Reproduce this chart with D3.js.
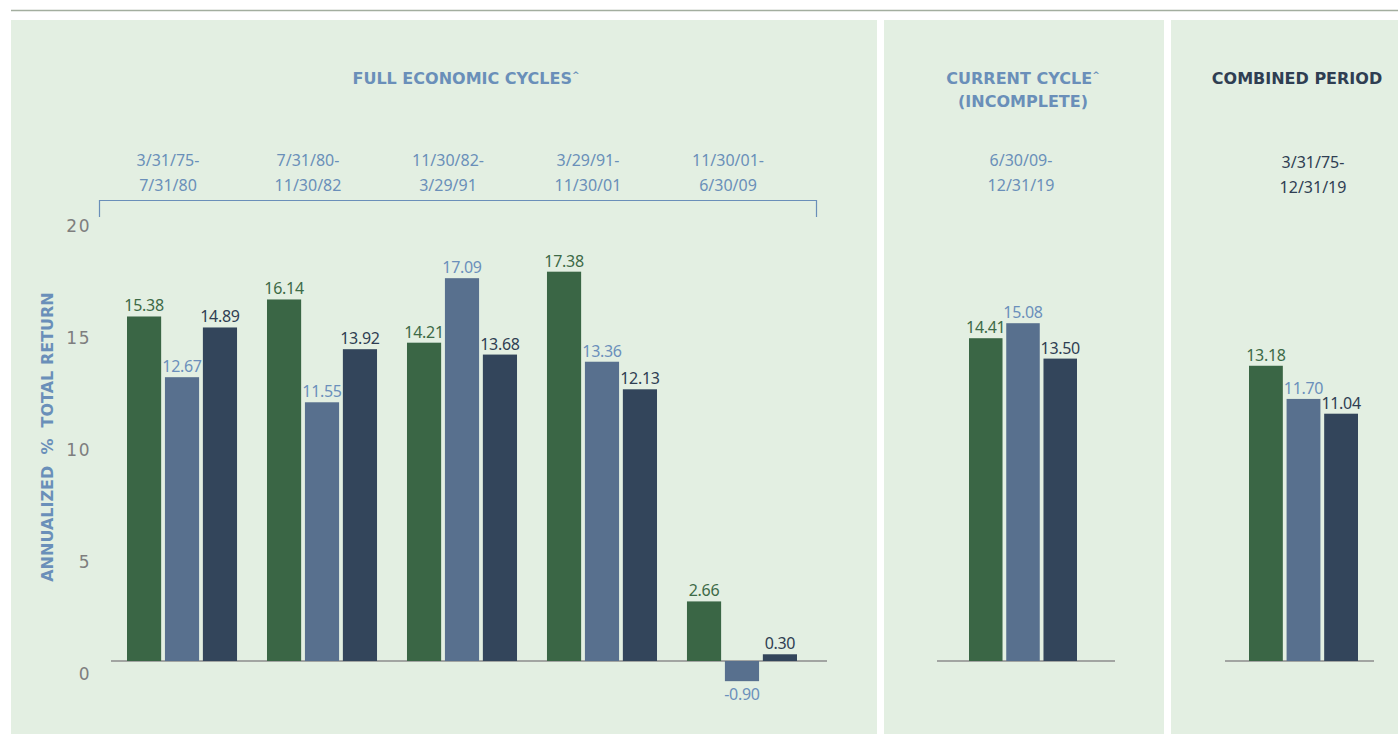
<!DOCTYPE html>
<html>
<head>
<meta charset="utf-8">
<script src="https://cdn.jsdelivr.net/npm/d3@7"></script>
<style>
  body { margin: 0; background: #fff; }
  svg { display: block; font-family: "Noto Sans", sans-serif; }
</style>
</head>
<body>
<svg id="chart" width="1398" height="740"></svg>
<script>
// data
var seriesKeys = ["s1", "s2", "s3"];
var fullPeriods = [
  ["3/31/75-", "7/31/80"],
  ["7/31/80-", "11/30/82"],
  ["11/30/82-", "3/29/91"],
  ["3/29/91-", "11/30/01"],
  ["11/30/01-", "6/30/09"]
];
var fullS1 = [15.38, 16.14, 14.21, 17.38, 2.66];
var fullS2 = [12.67, 11.55, 17.09, 13.36, -0.90];
var fullS3 = [14.89, 13.92, 13.68, 12.13, 0.30];
var currentPeriod = ["6/30/09-", "12/31/19"];
var currentValues = [14.41, 15.08, 13.50];
var combinedPeriod = ["3/31/75-", "12/31/19"];
var combinedValues = [13.18, 11.70, 11.04];
var yTicks = [0, 5, 10, 15, 20];

var barColors = ["#3a6645", "#58708e", "#33455b"];
var labelColors = ["#3d6a47", "#6b8fbb", "#2f3e52"];
var lightBlue = "#6a8fb9";
var panelFill = "#e3efe2";
var boldFont = "DejaVu Sans";

var svg = d3.select("#chart");

// top rule
svg.append("line")
  .attr("x1", 11).attr("x2", 1398).attr("y1", 10.5).attr("y2", 10.5)
  .style("stroke", "#a3ae9f").style("stroke-width", 1.5);

// panels
var panels = [[11, 877], [884, 1164], [1171, 1398]];
svg.append("g").selectAll("rect")
  .data(panels)
  .enter()
  .append("rect")
  .attr("x", function (d) { return d[0]; })
  .attr("y", 20)
  .attr("width", function (d) { return d[1] - d[0]; })
  .attr("height", 714)
  .style("fill", panelFill);

var y = d3.scaleLinear().domain([0, 20]).range([661, 213]);

// y axis tick labels (drawn a little below the value, as in the original)
svg.append("g").selectAll("text")
  .data(yTicks)
  .enter()
  .append("text")
  .attr("x", 91)
  .attr("y", function (d) { return y(d) + 13; })
  .attr("dy", "0.35em")
  .attr("text-anchor", "end")
  .style("font-family", "DejaVu Sans")
  .style("font-size", "17px")
  .style("letter-spacing", "1.5px")
  .style("fill", "#7e7e7e")
  .text(function (d) { return d; });

svg.append("text")
  .attr("transform", "translate(47," + 437 + ") rotate(-90)")
  .attr("text-anchor", "middle")
  .attr("dy", "0.35em")
  .style("font-family", boldFont)
  .style("font-size", "16px")
  .style("font-weight", "bold")
  .style("fill", lightBlue)
  .attr("xml:space", "preserve")
  .text("ANNUALIZED  %  TOTAL RETURN");

// headers
function header(x, lines, color) {
  var t = svg.append("text")
    .attr("text-anchor", "middle")
    .style("font-family", boldFont)
    .style("font-size", "16px")
    .style("font-weight", "bold")
    .style("fill", color);
  lines.forEach(function (l, i) {
    t.append("tspan").attr("x", x).attr("y", 84 + i * 23).text(l.text);
    if (l.sup) {
      t.append("tspan").attr("dy", -6).style("font-size", "9px").text("^");
    }
  });
}
header(466, [{ text: "FULL ECONOMIC CYCLES", sup: true }], lightBlue);
header(1023, [{ text: "CURRENT CYCLE", sup: true }, { text: "(INCOMPLETE)" }], lightBlue);
header(1297, [{ text: "COMBINED PERIOD" }], "#2f3e52");

function period(x, lines, color, y0) {
  var t = svg.append("text")
    .attr("text-anchor", "middle")
    .style("font-size", "16px")
    .style("fill", color);
  lines.forEach(function (l, i) {
    t.append("tspan").attr("x", x).attr("y", y0 + i * 25).text(l);
  });
}

// bracket over the full cycles
svg.append("path")
  .attr("d", "M99.5,217V200.5H816.5V217")
  .style("fill", "none")
  .style("stroke", lightBlue)
  .style("stroke-width", 1.2);

// panel 1: grouped bars
var fullIdx = d3.range(fullPeriods.length);
var x0 = d3.scaleBand().domain(fullIdx).range([127, 797]).paddingInner(0.214);
var x1 = d3.scaleBand().domain(seriesKeys).range([0, x0.bandwidth()]).paddingInner(0.1);

var fullData = fullIdx.map(function (i) {
  return [fullS1[i], fullS2[i], fullS3[i]];
});

fullIdx.forEach(function (i) {
  period(x0(i) + x0.bandwidth() / 2 - 14, fullPeriods[i], lightBlue, 166);
});

var fmt = function (v) { return d3.format(".2f")(v).replace("\u2212", "-"); };

function drawBars(g, values, xs, offset) {
  var bars = g.selectAll(null)
    .data(values.map(function (v, j) { return { v: v, k: seriesKeys[j], j: j }; }))
    .enter();
  bars.append("rect")
    .attr("x", function (d) { return offset + xs(d.k); })
    .attr("y", function (d) { return y(Math.max(0, d.v)); })
    .attr("width", xs.bandwidth())
    .attr("height", function (d) { return Math.abs(y(d.v) - y(0)); })
    .style("fill", function (d) { return barColors[d.j]; });
  bars.append("text")
    .attr("x", function (d) { return offset + xs(d.k) + xs.bandwidth() / 2; })
    .attr("y", function (d) { return d.v >= 0 ? y(d.v) - 5 : y(d.v) + 19; })
    .attr("text-anchor", "middle")
    .style("font-size", "16px")
    .style("letter-spacing", "-0.3px")
    .style("fill", function (d) { return labelColors[d.j]; })
    .text(function (d) { return fmt(d.v); });
}

function baseline(xa, xb) {
  svg.append("line")
    .attr("x1", xa).attr("x2", xb)
    .attr("y1", y(0)).attr("y2", y(0))
    .style("stroke", "#8c8c8c")
    .style("stroke-width", 1.5);
}

baseline(111, 827);
var g1 = svg.append("g");
fullData.forEach(function (vals, i) {
  drawBars(g1, vals, x1, x0(i));
});

// panel 2: current cycle
period(1021, currentPeriod, lightBlue, 166);
var xc = d3.scaleBand().domain(seriesKeys).range([969, 1077]).paddingInner(0.1);
baseline(937, 1115);
drawBars(svg.append("g"), currentValues, xc, 0);

// panel 3: combined
period(1313, combinedPeriod, "#2f3e52", 168);
var xm = d3.scaleBand().domain(seriesKeys).range([1249, 1358]).paddingInner(0.1);
baseline(1225, 1374);
drawBars(svg.append("g"), combinedValues, xm, 0);
</script>
</body>
</html>
